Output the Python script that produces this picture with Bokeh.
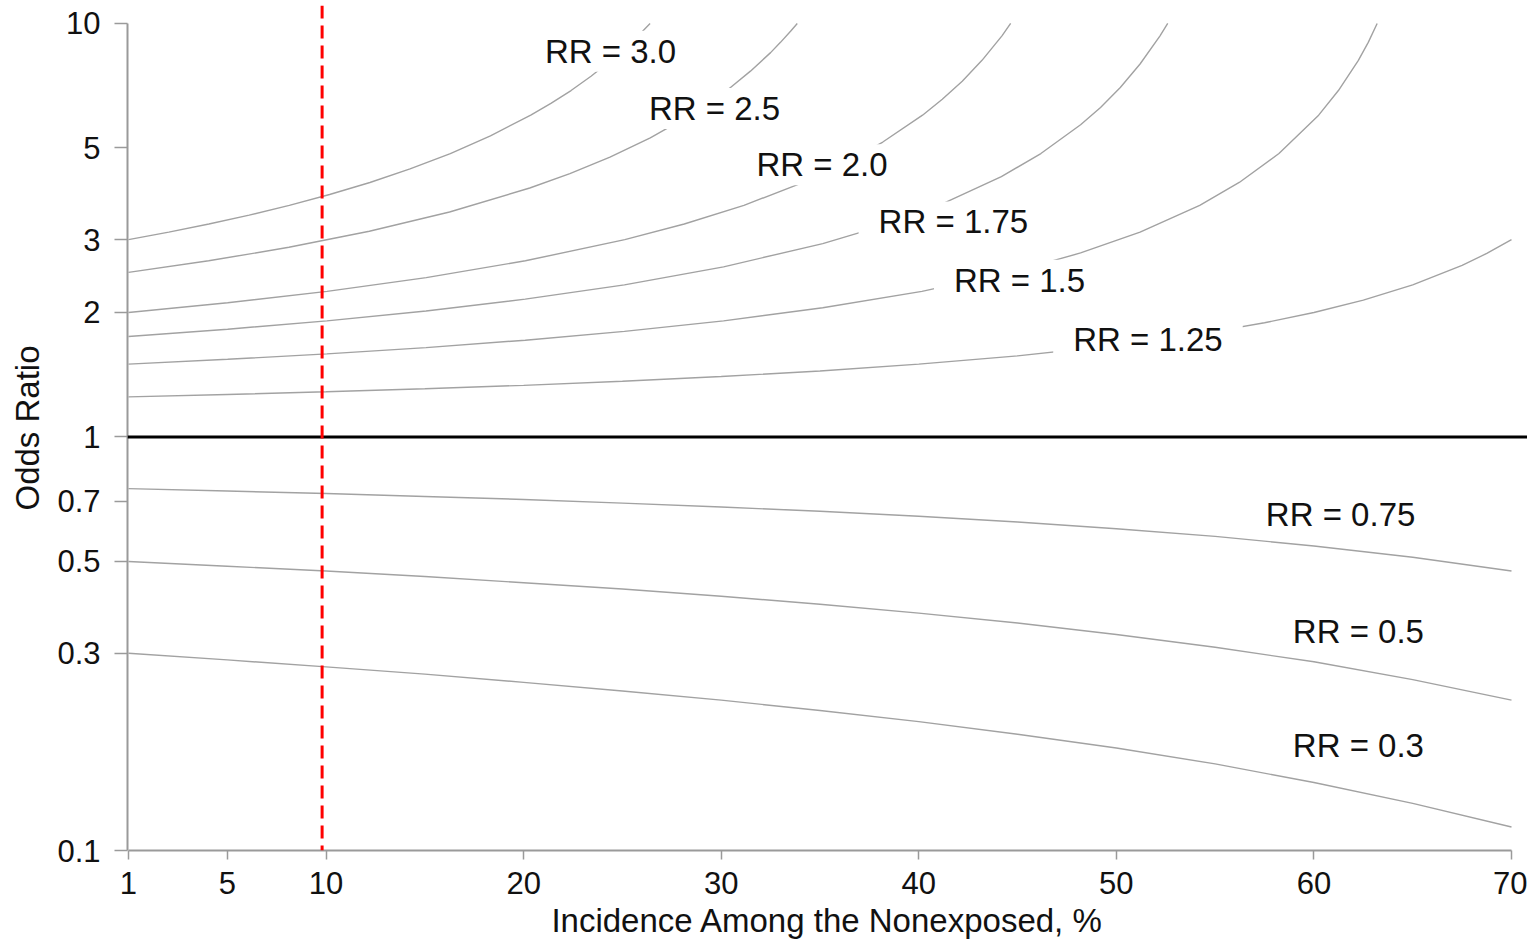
from bokeh.plotting import figure
from bokeh.models import Range1d, FixedTicker, Span, Label
from bokeh.embed import file_html
from bokeh.resources import INLINE

# ---------------- data ----------------
X_TICKS = [0, 5, 10, 20, 30, 40, 50, 60, 70]
X_TICK_LABELS = ["1", "5", "10", "20", "30", "40", "50", "60", "70"]
Y_TICKS = [0.1, 0.3, 0.5, 0.7, 1, 2, 3, 5, 10]
Y_TICK_LABELS = ["0.1", "0.3", "0.5", "0.7", "1", "2", "3", "5", "10"]

RR_LABELS = ["RR = 3.0", "RR = 2.5", "RR = 2.0", "RR = 1.75", "RR = 1.5",
             "RR = 1.25", "RR = 0.75", "RR = 0.5", "RR = 0.3"]

INC_RR300 = [0, 2.04, 4.07, 6.11, 8.14, 10.18, 12.22, 14.25, 16.29, 18.32, 20.36,
             21.38, 22.40, 23.41, 24.43, 24.94, 25.45, 25.96, 26.4]
OR_RR300 = [3.0, 3.128, 3.273, 3.439, 3.632, 3.857, 4.125, 4.448, 4.846, 5.348, 6.0,
            6.405, 6.882, 7.452, 8.143, 8.547, 9.0, 9.511, 10.0]

INC_RR250 = [0, 4.06, 8.12, 12.19, 16.25, 20.31, 22.34, 24.37, 26.41, 28.44, 30.47,
             31.48, 32.5, 33.0, 33.51, 33.85]
OR_RR250 = [2.5, 2.667, 2.875, 3.143, 3.5, 4.0, 4.333, 4.75, 5.286, 6.0, 7.0,
            7.667, 8.5, 9.0, 9.571, 10.0]

INC_RR200 = [0, 5.02, 10.05, 15.07, 20.09, 25.12, 28.13, 31.15, 34.16, 36.17, 38.18,
             40.19, 41.19, 42.2, 43.2, 44.21, 44.65]
OR_RR200 = [2.0, 2.111, 2.25, 2.429, 2.667, 3.0, 3.273, 3.632, 4.125, 4.571, 5.167,
            6.0, 6.556, 7.25, 8.143, 9.333, 10.0]

INC_RR175 = [0, 5.02, 10.04, 15.06, 20.08, 25.1, 30.12, 35.14, 38.15, 41.16, 44.18,
             46.18, 48.19, 49.2, 50.2, 51.2, 52.21, 52.6]
OR_RR175 = [1.75, 1.822, 1.909, 2.017, 2.154, 2.333, 2.579, 2.935, 3.239, 3.655, 4.261,
            4.846, 5.688, 6.263, 7.0, 7.977, 9.333, 10.0]

INC_RR150 = [0, 5.02, 10.04, 15.06, 20.08, 25.1, 30.12, 35.14, 40.16, 45.18, 48.19,
             51.2, 54.22, 56.22, 58.23, 60.24, 61.24, 62.25, 62.75, 63.2]
OR_RR150 = [1.5, 1.541, 1.588, 1.645, 1.714, 1.8, 1.909, 2.053, 2.25, 2.538, 2.786,
            3.128, 3.632, 4.125, 4.846, 6.0, 6.882, 8.143, 9.0, 10.0]

INC_RR125 = [0, 5, 10, 15, 20, 25, 30, 35, 40, 45, 50, 55, 57.5, 60, 62.5, 65, 67.5,
             68.75, 70]
OR_RR125 = [1.25, 1.267, 1.286, 1.308, 1.333, 1.364, 1.40, 1.444, 1.50, 1.571, 1.667,
            1.80, 1.889, 2.0, 2.143, 2.333, 2.60, 2.778, 3.0]

INC_LOW = [0, 5, 10, 15, 20, 25, 30, 35, 40, 45, 50, 55, 60, 65, 70]
OR_RR075 = [0.75, 0.740, 0.730, 0.718, 0.706, 0.692, 0.677, 0.661, 0.643, 0.623,
            0.600, 0.575, 0.545, 0.512, 0.474]
OR_RR050 = [0.5, 0.487, 0.474, 0.460, 0.444, 0.429, 0.412, 0.394, 0.375, 0.355,
            0.333, 0.310, 0.286, 0.259, 0.231]
OR_RR030 = [0.3, 0.289, 0.278, 0.267, 0.255, 0.243, 0.231, 0.218, 0.205, 0.191,
            0.177, 0.162, 0.146, 0.130, 0.114]

REFERENCE_OR = 1
MARKED_INCIDENCE = 9.8

CURVES = [
    (INC_RR300, OR_RR300), (INC_RR250, OR_RR250), (INC_RR200, OR_RR200),
    (INC_RR175, OR_RR175), (INC_RR150, OR_RR150), (INC_RR125, OR_RR125),
    (INC_LOW, OR_RR075), (INC_LOW, OR_RR050), (INC_LOW, OR_RR030),
]

# label anchor positions (layout), in data units
LABEL_POS = [(24.4, 8.56), (29.66, 6.23), (35.1, 4.55), (41.75, 3.31), (45.1, 2.394),
             (51.6, 1.72), (61.35, 0.648), (62.25, 0.339), (62.25, 0.1793)]
LABEL_ON_CURVE = [True, True, True, True, True, True, False, False, False]

FONT = "Liberation Sans"

p = figure(width=1527, height=941, output_backend="svg", toolbar_location=None,
           y_axis_type="log",
           x_range=Range1d(-0.05, 70.81), y_range=Range1d(0.1, 11.05),
           min_border_left=127, min_border_right=0, min_border_top=5,
           min_border_bottom=90)
p.outline_line_color = None
p.background_fill_color = "white"
p.border_fill_color = "white"
p.xgrid.visible = False
p.ygrid.visible = False

for xs, ys in CURVES:
    p.line(xs, ys, line_color="#a2a2a2", line_width=1.4)

p.add_layout(Span(location=REFERENCE_OR, dimension="width",
                  line_color="black", line_width=3))
p.add_layout(Span(location=MARKED_INCIDENCE, dimension="height",
                  line_color="#ff0000", line_width=3, line_dash="13 7"))

for text, (lx, ly), on_curve in zip(RR_LABELS, LABEL_POS, LABEL_ON_CURVE):
    kw = dict(x=lx, y=ly, text=text, text_font=FONT, text_font_size="33px",
              text_color="#111111", text_align="center", text_baseline="middle")
    if on_curve:
        kw.update(background_fill_color="white",
                  padding=dict(left=20, right=20, top=2, bottom=2))
    p.add_layout(Label(**kw))

# axes
xa = p.xaxis[0]
xa.ticker = FixedTicker(ticks=X_TICKS)
xa.major_label_overrides = {t: l for t, l in zip(X_TICKS, X_TICK_LABELS)}
xa.bounds = (0, 70)
xa.axis_label = "Incidence Among the Nonexposed, %"

ya = p.yaxis[0]
ya.ticker = FixedTicker(ticks=Y_TICKS)
ya.major_label_overrides = {t: l for t, l in zip(Y_TICKS, Y_TICK_LABELS)}
ya.bounds = (0.1, 10)
ya.axis_label = "Odds Ratio"

for ax in (xa, ya):
    ax.axis_line_color = "#9a9a9a"
    ax.axis_line_width = 2
    ax.major_tick_line_color = "#9a9a9a"
    ax.major_tick_line_width = 1.5
    ax.major_tick_in = 0
    ax.minor_tick_line_color = None
    ax.major_label_text_font = FONT
    ax.major_label_text_font_size = "31px"
    ax.major_label_text_color = "#111111"
    ax.axis_label_text_font = FONT
    ax.axis_label_text_font_size = "33px"
    ax.axis_label_text_font_style = "normal"
    ax.axis_label_text_color = "#111111"

xa.major_tick_out = 9
xa.major_label_standoff = 12
xa.axis_label_standoff = 5

ya.major_tick_out = 13
ya.major_label_standoff = 14
ya.axis_label_standoff = 8

open("out.html", "w").write(file_html(p, INLINE))
